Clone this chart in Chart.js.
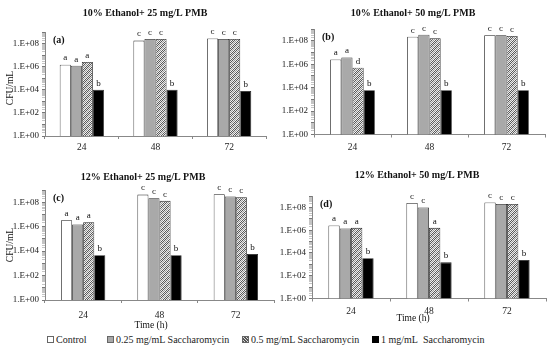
<!DOCTYPE html>
<html lang="en">
<head>
<meta charset="UTF-8" />
<title>Saccharomycin CFU/mL</title>
<script src="https://cdn.jsdelivr.net/npm/chart.js"></script>
<style>
  body { margin: 0; background: #fff; font-family: "Liberation Serif", serif; }
  #wrap { position: relative; width: 550px; height: 350px; overflow: hidden; }
  canvas.panel { position: absolute; }
  .leg { position: absolute; top: 334px; font-size: 10px; color: #222; white-space: nowrap; line-height: 12px; }
  .box { display: inline-block; width: 5px; height: 5px; border: 1px solid #666; margin-right: 2px; vertical-align: 0px; }
</style>
</head>
<body>
<div id="wrap">
  <canvas id="pa" class="panel" width="275" height="160" style="left:0;top:0"></canvas>
  <canvas id="pb" class="panel" width="275" height="160" style="left:275px;top:0"></canvas>
  <canvas id="pc" class="panel" width="275" height="172" style="left:0;top:160px"></canvas>
  <canvas id="pd" class="panel" width="275" height="172" style="left:275px;top:160px"></canvas>

  <div class="leg" style="left:47px"><span class="box" style="background:#fff"></span>Control</div>
  <div class="leg" style="left:107px"><span class="box" style="background:#a9a9a9"></span>0.25 mg/mL Saccharomycin</div>
  <div class="leg" style="left:242px"><span class="box" style="background:repeating-linear-gradient(45deg,#555 0 1px,#ddd 1px 2px)"></span>0.5 mg/mL Saccharomycin</div>
  <div class="leg" style="left:372px"><span class="box" style="background:#000;border-color:#000"></span>1 mg/mL&nbsp; Saccharomycin</div>
</div>

<script>
  const hours = ["24", "48", "72"];
  const seriesNames = ["Control", "0.25 mg/mL Saccharomycin", "0.5 mg/mL Saccharomycin", "1 mg/mL Saccharomycin"];
  const labelExponents = [0, 2, 4, 6, 8];

  // CFU/mL, one row per series (control, 0.25, 0.5, 1 mg/mL)
  const valuesA = [
    [1.5e6, 1.8e8, 2.7e8],
    [1.2e6, 2.5e8, 2.5e8],
    [2.5e6, 2.5e8, 2.5e8],
    [1.0e4, 1.0e4, 8.0e3]
  ];
  const valuesB = [
    [2.5e6, 2.2e8, 2.9e8],
    [3.7e6, 3.2e8, 2.9e8],
    [4.9e5, 1.6e8, 2.5e8],
    [6.0e3, 6.0e3, 6.0e3]
  ];
  const valuesC = [
    [3.4e6, 4.2e8, 4.5e8],
    [1.5e6, 2.1e8, 2.9e8],
    [2.3e6, 1.3e8, 2.5e8],
    [4.6e3, 4.6e3, 5.9e3]
  ];
  const valuesD = [
    [2.6e6, 2.4e8, 2.7e8],
    [1.4e6, 1.0e8, 2.0e8],
    [1.6e6, 1.6e6, 2.0e8],
    [3.4e3, 1.5e3, 2.4e3]
  ];

  const lettersA = [["a", "c", "c"], ["a", "c", "c"], ["a", "c", "c"], ["b", "b", "b"]];
  const lettersB = [["a", "c", "c"], ["a", "c", "c"], ["d", "c", "c"], ["b", "b", "b"]];
  const lettersC = [["a", "c", "c"], ["a", "c", "c"], ["a", "c", "c"], ["b", "b", "b"]];
  const lettersD = [["a", "c", "c"], ["a", "c", "c"], ["a", "a", "c"], ["b", "b", "b"]];

  const SERIF = '"Liberation Serif", serif';

  // checkered diagonal fill for the 0.5 mg/mL bars
  function makePattern() {
    const c = document.createElement("canvas");
    c.width = 6; c.height = 6;
    const g = c.getContext("2d");
    for (let x = 0; x < 6; x++) {
      for (let y = 0; y < 6; y++) {
        let col = (x + y) % 2 === 0 ? "#5a5a5a" : "#e6e6e6";
        if ((x + y) % 6 < 2) col = (x + y) % 2 === 0 ? "#9a9a9a" : "#f4f4f4";
        g.fillStyle = col;
        g.fillRect(x, y, 1, 1);
      }
    }
    return g.createPattern(c, "repeat");
  }
  const fills = ["#ffffff", "#a9a9a9", makePattern(), "#000000"];

  const minorTicks = [];
  for (let e = 0; e < 9; e++) {
    for (let m = 1; m < 10; m++) minorTicks.push({ value: m * Math.pow(10, e) });
  }
  minorTicks.push({ value: 1e9 });

  function isDecade(v) {
    const e = Math.log10(v);
    return Math.abs(e - Math.round(e)) < 1e-9;
  }

  function textPlugin(p) {
    return {
      id: "panelText",
      afterDatasetsDraw(chart) {
        const ctx = chart.ctx;
        const area = chart.chartArea;
        ctx.save();
        ctx.fillStyle = "#111";
        ctx.textAlign = "center";
        ctx.textBaseline = "bottom";
        ctx.font = "9px " + SERIF;
        chart.data.datasets.forEach((ds, di) => {
          chart.getDatasetMeta(di).data.forEach((bar, i) => {
            ctx.fillText(p.letters[di][i], bar.x, bar.y - 2);
          });
        });
        ctx.textBaseline = "middle";
        ctx.font = "bold 10px " + SERIF;
        ctx.fillText(p.title, p.titleX, p.titleY);
        ctx.textAlign = "left";
        ctx.fillText(p.tag, area.left + 8, area.top + 8);
        ctx.font = "9.5px " + SERIF;
        ctx.textAlign = "center";
        if (p.xTitle) ctx.fillText("Time (h)", p.xTitle[0], p.xTitle[1]);
        if (p.yTitle) {
          ctx.translate(p.yTitle[0], p.yTitle[1]);
          ctx.rotate(-Math.PI / 2);
          ctx.fillText("CFU/mL", 0, 0);
        }
        ctx.restore();
      }
    };
  }

  function makePanel(p) {
    const canvas = document.getElementById(p.id);
    const H = canvas.height;
    const xAxisH = 22;
    new Chart(canvas, {
      type: "bar",
      data: {
        labels: hours,
        datasets: p.values.map((v, i) => ({
          label: seriesNames[i],
          data: v,
          backgroundColor: fills[i],
          borderColor: "#222",
          borderWidth: 0.8,
          categoryPercentage: p.cat,
          barPercentage: 1
        }))
      },
      options: {
        responsive: false,
        animation: false,
        layout: { padding: { left: 0, top: p.top, right: 275 - p.right, bottom: H - p.bottom - xAxisH } },
        plugins: { legend: { display: false }, tooltip: { enabled: false } },
        scales: {
          x: {
            grid: { offset: true, drawOnChartArea: false, tickLength: 3, color: "#888" },
            border: { color: "#888" },
            ticks: { padding: p.xPad, color: "#222", font: { family: SERIF, size: 9.5 } },
            afterFit: s => { s.height = xAxisH; }
          },
          y: {
            type: "logarithmic",
            min: 1,
            max: 1e9,
            border: { color: "#888" },
            grid: {
              drawOnChartArea: false,
              tickLength: 3,
              color: c => (c.tick && isDecade(c.tick.value)) ? "#777" : "#c4c4c4"
            },
            afterBuildTicks: s => { s.ticks = minorTicks.map(t => ({ value: t.value })); },
            ticks: {
              autoSkip: false,
              padding: 3,
              color: "#222",
              font: { family: SERIF, size: 9 },
              callback: v => {
                if (!isDecade(v)) return "";
                const e = Math.round(Math.log10(v));
                return labelExponents.includes(e) ? "1.E+0" + e : "";
              }
            },
            afterFit: s => { s.width = p.left; }
          }
        }
      },
      plugins: [textPlugin(p)]
    });
  }

  makePanel({ id: "pa", values: valuesA, letters: lettersA, title: "10% Ethanol+ 25 mg/L PMB", tag: "(a)",
    titleX: 145, titleY: 13, left: 45, right: 266, top: 32, bottom: 136, cat: 0.6, xPad: 3, yTitle: [10, 88] });
  makePanel({ id: "pb", values: valuesB, letters: lettersB, title: "10% Ethanol+ 50 mg/L PMB", tag: "(b)",
    titleX: 138, titleY: 13, left: 39, right: 270, top: 29, bottom: 134.5, cat: 0.58, xPad: 4 });
  makePanel({ id: "pc", values: valuesC, letters: lettersC, title: "12% Ethanol+ 25 mg/L PMB", tag: "(c)",
    titleX: 143, titleY: 17, left: 45, right: 274, top: 30, bottom: 140, cat: 0.58, xPad: 7,
    yTitle: [10, 85], xTitle: [151, 165] });
  makePanel({ id: "pd", values: valuesD, letters: lettersD, title: "12% Ethanol+ 50 mg/L PMB", tag: "(d)",
    titleX: 142, titleY: 15, left: 37, right: 271, top: 36, bottom: 138.5, cat: 0.58, xPad: 4,
    xTitle: [138, 158] });
</script>
</body>
</html>
